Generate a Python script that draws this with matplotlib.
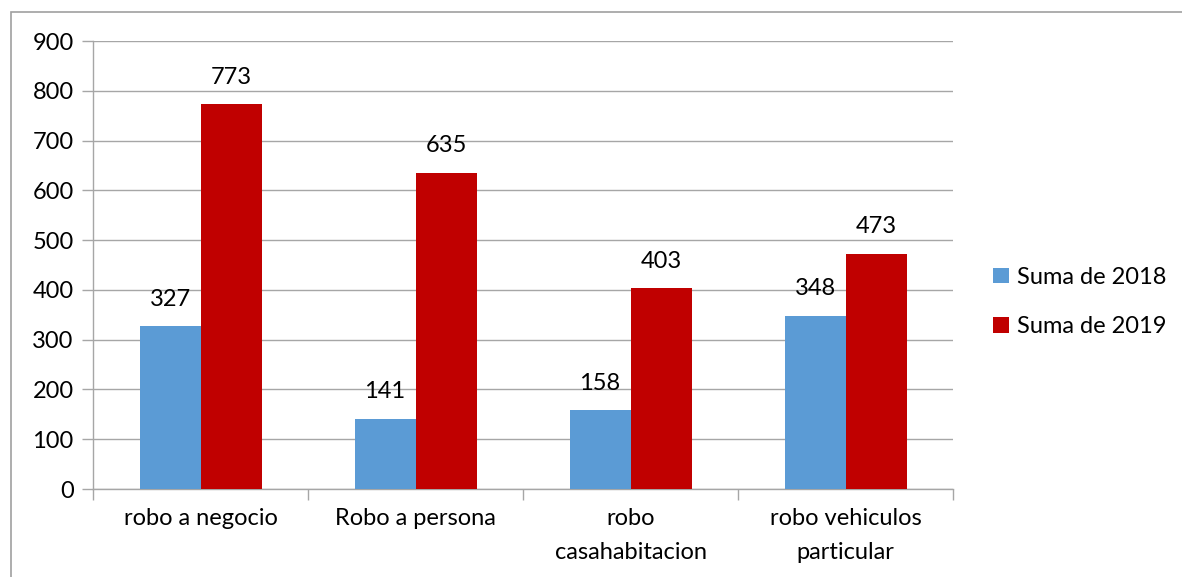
import matplotlib
matplotlib.use("Agg")
import matplotlib.pyplot as plt
from matplotlib.patches import Rectangle
import numpy as np

categories = ["robo a negocio", "Robo a persona", "robo\ncasahabitacion", "robo vehiculos\nparticular"]
series_names = ["Suma de 2018", "Suma de 2019"]
values_2018 = [327, 141, 158, 348]
values_2019 = [773, 635, 403, 473]
colors = ["#5B9BD5", "#C00000"]
yticks = [0, 100, 200, 300, 400, 500, 600, 700, 800, 900]

plt.rcParams['font.family'] = ['Lato', 'DejaVu Sans']
FS = 17
W, H = 1182, 577
fig = plt.figure(figsize=(W / 100, H / 100), dpi=100)
ax = fig.add_axes([93 / W, 1 - 489 / H, (953 - 93) / W, (489 - 41) / H])

# outer chart border
fig.patches.append(Rectangle((11 / W, -0.1), 1.2, 1 - 12 / H + 0.1, transform=fig.transFigure,
                             fill=False, edgecolor="#A0A0A0", linewidth=1.2))

x = np.arange(len(categories))
bw = 61 / 215
b1 = ax.bar(x - bw / 2, values_2018, bw, color=colors[0], label=series_names[0], zorder=3)
b2 = ax.bar(x + bw / 2, values_2019, bw, color=colors[1], label=series_names[1], zorder=3)
for bars in (b1, b2):
    for r in bars:
        ax.annotate(f"{int(r.get_height())}", (r.get_x() + r.get_width() / 2, r.get_height()),
                    xytext=(0, 19.5), textcoords="offset points", ha="center", va="center",
                    fontsize=FS, color="#000000")

ax.set_xlim(-0.5, len(categories) - 0.5)
ax.set_ylim(0, 900)
ax.set_yticks(yticks)
ax.set_yticklabels([str(t) for t in yticks], fontsize=FS)
ax.yaxis.grid(True, color="#A6A6A6", linewidth=1.0, zorder=0)
ax.set_axisbelow(True)
ax.tick_params(axis="y", length=8, width=1.0, color="#A6A6A6", pad=6)

ax.set_xticks(x)
ax.set_xticklabels(categories, fontsize=FS, linespacing=1.75)
ax.tick_params(axis="x", length=0, pad=14)
ax.set_xticks(np.arange(len(categories) + 1) - 0.5, minor=True)
ax.tick_params(axis="x", which="minor", length=8, width=1.0, color="#A6A6A6")

for s in ["top", "right"]:
    ax.spines[s].set_visible(False)
for s in ["left", "bottom"]:
    ax.spines[s].set_color("#A6A6A6")
    ax.spines[s].set_linewidth(1.0)

ax.legend(loc="center left", bbox_to_anchor=(972 / W, 1 - 302 / H), bbox_transform=fig.transFigure,
          frameon=False, fontsize=FS, handlelength=0.65, handleheight=0.65, handletextpad=0.35,
          labelspacing=1.2)

fig.savefig("out.png", dpi=100)
